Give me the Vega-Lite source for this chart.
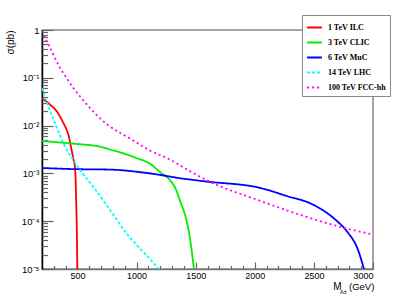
{
  "$schema": "https://vega.github.io/schema/vega-lite/v6.json",
  "width": 331,
  "height": 239,
  "autosize": {"type": "none"},
  "padding": {"left": 42, "top": 30, "right": 42, "bottom": 31},
  "background": "white",
  "config": {
    "view": {"stroke": "#888", "strokeWidth": 1.5},
    "axis": {"grid": false, "labelFont": "Liberation Sans", "titleFont": "Liberation Sans", "labelColor": "black", "titleColor": "black", "titleFontWeight": "normal", "tickColor": "#666", "tickWidth": 1.2},
    "legend": {
      "orient": "none", "legendX": 260, "legendY": -15,
      "symbolType": "stroke", "symbolStrokeWidth": 1.8, "symbolSize": 220,
      "labelFont": "Liberation Serif", "labelFontWeight": "bold", "labelFontSize": 8, "labelColor": "black",
      "strokeColor": "#888", "fillColor": "white", "padding": 4, "rowPadding": 2, "labelOffset": 5
    }
  },
  "data": {"values": [
    {"series": "1 TeV ILC", "m": 200, "s": 0.0363},
    {"series": "1 TeV ILC", "m": 240, "s": 0.0316},
    {"series": "1 TeV ILC", "m": 270, "s": 0.0272},
    {"series": "1 TeV ILC", "m": 300, "s": 0.0234},
    {"series": "1 TeV ILC", "m": 326, "s": 0.0197},
    {"series": "1 TeV ILC", "m": 350, "s": 0.0158},
    {"series": "1 TeV ILC", "m": 382, "s": 0.0112},
    {"series": "1 TeV ILC", "m": 405, "s": 0.0085},
    {"series": "1 TeV ILC", "m": 424, "s": 0.00638},
    {"series": "1 TeV ILC", "m": 447, "s": 0.00339},
    {"series": "1 TeV ILC", "m": 463, "s": 0.00215},
    {"series": "1 TeV ILC", "m": 481, "s": 0.00116},
    {"series": "1 TeV ILC", "m": 489, "s": 0.000275},
    {"series": "1 TeV ILC", "m": 495, "s": 0.000055},
    {"series": "1 TeV ILC", "m": 499, "s": 0.0000089},
    {"series": "3 TeV CLIC", "m": 200, "s": 0.00479},
    {"series": "3 TeV CLIC", "m": 354, "s": 0.00443},
    {"series": "3 TeV CLIC", "m": 523, "s": 0.00407},
    {"series": "3 TeV CLIC", "m": 692, "s": 0.00363},
    {"series": "3 TeV CLIC", "m": 777, "s": 0.00316},
    {"series": "3 TeV CLIC", "m": 900, "s": 0.00257},
    {"series": "3 TeV CLIC", "m": 1000, "s": 0.00209},
    {"series": "3 TeV CLIC", "m": 1113, "s": 0.0016},
    {"series": "3 TeV CLIC", "m": 1198, "s": 0.00107},
    {"series": "3 TeV CLIC", "m": 1282, "s": 0.000724},
    {"series": "3 TeV CLIC", "m": 1330, "s": 0.00048},
    {"series": "3 TeV CLIC", "m": 1366, "s": 0.000275},
    {"series": "3 TeV CLIC", "m": 1422, "s": 0.000105},
    {"series": "3 TeV CLIC", "m": 1450, "s": 0.0000468},
    {"series": "3 TeV CLIC", "m": 1473, "s": 0.0000178},
    {"series": "3 TeV CLIC", "m": 1488, "s": 0.0000089},
    {"series": "6 TeV MuC", "m": 200, "s": 0.0013},
    {"series": "6 TeV MuC", "m": 466, "s": 0.00123},
    {"series": "6 TeV MuC", "m": 777, "s": 0.0012},
    {"series": "6 TeV MuC", "m": 1113, "s": 0.001},
    {"series": "6 TeV MuC", "m": 1394, "s": 0.000776},
    {"series": "6 TeV MuC", "m": 1591, "s": 0.000676},
    {"series": "6 TeV MuC", "m": 2041, "s": 0.000501},
    {"series": "6 TeV MuC", "m": 2266, "s": 0.000339},
    {"series": "6 TeV MuC", "m": 2490, "s": 0.000224},
    {"series": "6 TeV MuC", "m": 2687, "s": 0.000105},
    {"series": "6 TeV MuC", "m": 2785, "s": 0.000059},
    {"series": "6 TeV MuC", "m": 2870, "s": 0.0000263},
    {"series": "6 TeV MuC", "m": 2926, "s": 0.0000095},
    {"series": "14 TeV LHC", "m": 200, "s": 0.0608},
    {"series": "14 TeV LHC", "m": 235, "s": 0.0339},
    {"series": "14 TeV LHC", "m": 270, "s": 0.02},
    {"series": "14 TeV LHC", "m": 326, "s": 0.00891},
    {"series": "14 TeV LHC", "m": 396, "s": 0.00355},
    {"series": "14 TeV LHC", "m": 460, "s": 0.002},
    {"series": "14 TeV LHC", "m": 523, "s": 0.00116},
    {"series": "14 TeV LHC", "m": 635, "s": 0.000519},
    {"series": "14 TeV LHC", "m": 776, "s": 0.00017},
    {"series": "14 TeV LHC", "m": 917, "s": 0.000055},
    {"series": "14 TeV LHC", "m": 1113, "s": 0.0000162},
    {"series": "14 TeV LHC", "m": 1200, "s": 0.0000093},
    {"series": "100 TeV FCC-hh", "m": 200, "s": 0.97},
    {"series": "100 TeV FCC-hh", "m": 230, "s": 0.66},
    {"series": "100 TeV FCC-hh", "m": 270, "s": 0.42},
    {"series": "100 TeV FCC-hh", "m": 310, "s": 0.257},
    {"series": "100 TeV FCC-hh", "m": 354, "s": 0.158},
    {"series": "100 TeV FCC-hh", "m": 410, "s": 0.0977},
    {"series": "100 TeV FCC-hh", "m": 466, "s": 0.0608},
    {"series": "100 TeV FCC-hh", "m": 535, "s": 0.0372},
    {"series": "100 TeV FCC-hh", "m": 607, "s": 0.0232},
    {"series": "100 TeV FCC-hh", "m": 680, "s": 0.0151},
    {"series": "100 TeV FCC-hh", "m": 760, "s": 0.0102},
    {"series": "100 TeV FCC-hh", "m": 945, "s": 0.00537},
    {"series": "100 TeV FCC-hh", "m": 1113, "s": 0.00302},
    {"series": "100 TeV FCC-hh", "m": 1282, "s": 0.00195},
    {"series": "100 TeV FCC-hh", "m": 1450, "s": 0.00112},
    {"series": "100 TeV FCC-hh", "m": 1591, "s": 0.000724},
    {"series": "100 TeV FCC-hh", "m": 2041, "s": 0.000269},
    {"series": "100 TeV FCC-hh", "m": 2490, "s": 0.000112},
    {"series": "100 TeV FCC-hh", "m": 2757, "s": 0.0000724},
    {"series": "100 TeV FCC-hh", "m": 3000, "s": 0.0000525}
  ]},
  "layer": [
    {
      "mark": {"type": "line", "clip": true, "strokeWidth": 1.8, "interpolate": "monotone"},
      "encoding": {
        "x": {"field": "m", "type": "quantitative",
          "scale": {"domain": [200, 3000], "nice": false, "zero": false},
          "axis": {"orient": "bottom", "values": [500, 1000, 1500, 2000, 2500, 3000], "format": "d", "tickSize": -7, "labelPadding": 9.5, "labelFontSize": 9, "domainColor": "#777", "domainWidth": 1.5,
            "title": "M", "titleX": 290.7, "titleY": 20.5, "titleAlign": "left", "titleBaseline": "alphabetic", "titleFontSize": 10}},
        "y": {"field": "s", "type": "quantitative",
          "scale": {"type": "log", "domain": [0.00001, 1], "nice": false},
          "axis": {"orient": "left", "values": [0.00001, 0.0001, 0.001, 0.01, 0.1, 1], "tickSize": -11, "labelPadding": 14, "labelFontSize": 9.5, "domainColor": "black", "domainWidth": 1.5,
            "labelExpr": "datum.value > 0.5 ? '1' : datum.value > 0.05 ? '10⁻¹' : datum.value > 0.005 ? '10⁻²' : datum.value > 0.0005 ? '10⁻³' : datum.value > 0.00005 ? '10⁻⁴' : '10⁻⁵'",
            "title": "σ(pb)", "titleAngle": -90, "titleX": -32, "titleY": 0, "titleAlign": "right", "titleBaseline": "middle", "titleFontSize": 10}},
        "color": {"field": "series", "type": "nominal",
          "scale": {"domain": ["1 TeV ILC", "3 TeV CLIC", "6 TeV MuC", "14 TeV LHC", "100 TeV FCC-hh"], "range": ["#ff0000", "#00ee00", "#0000ff", "#00ffff", "#ff00ff"]},
          "legend": {"title": null}},
        "strokeDash": {"field": "series", "type": "nominal",
          "scale": {"domain": ["1 TeV ILC", "3 TeV CLIC", "6 TeV MuC", "14 TeV LHC", "100 TeV FCC-hh"], "range": [[1, 0], [1, 0], [1, 0], [3, 2], [2, 3]]},
          "legend": {"title": null}}
      }
    },
    {
      "mark": {"type": "point", "opacity": 0},
      "encoding": {
        "x": {"field": "m", "type": "quantitative",
          "axis": {"orient": "bottom", "values": [300, 400, 600, 700, 800, 900, 1100, 1200, 1300, 1400, 1600, 1700, 1800, 1900, 2100, 2200, 2300, 2400, 2600, 2700, 2800, 2900], "tickSize": -3.5, "labels": false, "domain": false,
            "title": "A±", "titleX": 297.5, "titleY": 24, "titleAlign": "left", "titleBaseline": "alphabetic", "titleFontSize": 5.5}},
        "y": {"field": "s", "type": "quantitative",
          "axis": {"orient": "left", "values": [0.00002, 0.00003, 0.00004, 0.00005, 0.00006, 0.00007, 0.00008, 0.00009, 0.0002, 0.0003, 0.0004, 0.0005, 0.0006, 0.0007, 0.0008, 0.0009, 0.002, 0.003, 0.004, 0.005, 0.006, 0.007, 0.008, 0.009, 0.02, 0.03, 0.04, 0.05, 0.06, 0.07, 0.08, 0.09, 0.2, 0.3, 0.4, 0.5, 0.6, 0.7, 0.8, 0.9], "tickSize": -5.5, "labels": false, "domain": false, "title": null}}
      }
    },
    {
      "mark": {"type": "point", "opacity": 0},
      "encoding": {
        "x": {"field": "m", "type": "quantitative",
          "axis": {"orient": "bottom", "ticks": false, "labels": false, "domain": false,
            "title": "(GeV)", "titleX": 306.5, "titleY": 20.5, "titleAlign": "left", "titleBaseline": "alphabetic", "titleFontSize": 9.5}},
        "y": {"field": "s", "type": "quantitative", "axis": null}
      }
    }
  ],
  "resolve": {"axis": {"x": "independent", "y": "independent"}}
}
